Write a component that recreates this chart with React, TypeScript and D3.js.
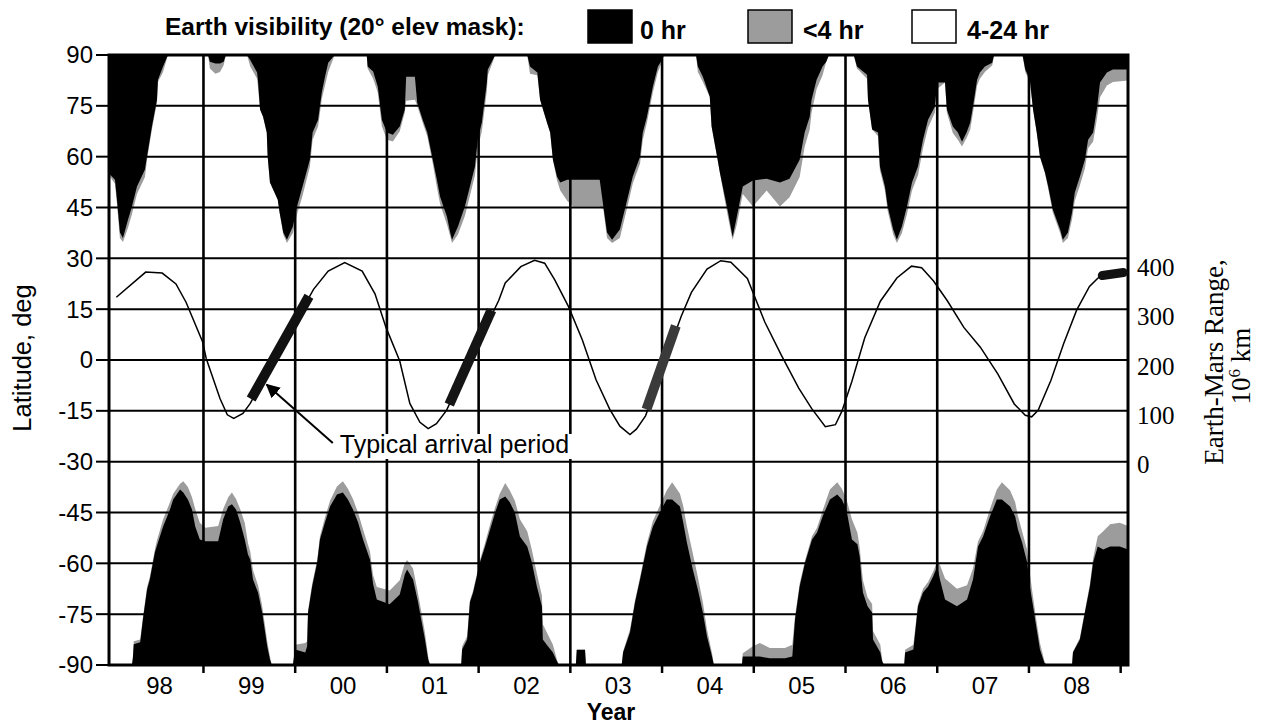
import React from 'react';
import * as d3 from 'd3';

// ---------- data ----------
const yearBounds = [1999, 2000, 2001, 2002, 2003, 2004, 2005, 2006, 2007, 2008, 2009];
const yearLabels = ['98', '99', '00', '01', '02', '03', '04', '05', '06', '07', '08'];
const yearLabelPos = [1998.5, 1999.5, 2000.5, 2001.5, 2002.5, 2003.5, 2004.5, 2005.5, 2006.5, 2007.5, 2008.5];
const latTicks = [90, 75, 60, 45, 30, 15, 0, -15, -30, -45, -60, -75, -90];
const rangeTicks = [0, 100, 200, 300, 400];

// [year, lower edge of 0-hr region, lower edge of <4-hr region] (northern cap, deg)
const northEdge: [number, number, number][] = [
  [1997.97, 55, 54.5], [1998.035, 53.2, 52], [1998.057, 47.3, 46], [1998.089, 37.6, 36], [1998.122, 36, 34.8],
  [1998.177, 41.4, 39], [1998.22, 45.3, 43], [1998.275, 51.2, 49], [1998.362, 56.2, 54], [1998.384, 60, 59],
  [1998.438, 68.9, 68], [1998.493, 76.8, 76], [1998.504, 82.7, 82], [1998.559, 86.6, 85], [1998.613, 90, 90],
  [1999.05, 90, 90], [1999.07, 88, 86], [1999.13, 87.5, 84.5], [1999.18, 87.5, 85], [1999.22, 88, 87], [1999.245, 90, 90],
  [1999.475, 90, 90], [1999.51, 88.5, 86.6], [1999.585, 84.8, 83], [1999.596, 81.9, 80], [1999.617, 73.9, 73.9],
  [1999.65, 71.8, 71.8], [1999.69, 67.1, 67.1], [1999.7, 60, 60], [1999.725, 52.4, 52.4], [1999.81, 47.3, 47.3],
  [1999.83, 43.5, 43.5], [1999.87, 37.6, 37], [1999.91, 35.5, 34.5], [1999.975, 39.4, 37.5], [2000.02, 45.3, 43],
  [2000.08, 51.2, 48.5], [2000.16, 59.1, 57], [2000.19, 67.1, 65], [2000.25, 70.9, 69], [2000.29, 78.9, 77],
  [2000.325, 83.6, 81], [2000.36, 87.7, 85], [2000.43, 90, 90],
  [2000.78, 90, 90], [2000.79, 86.6, 86], [2000.85, 85.1, 83], [2000.9, 80.7, 79], [2000.945, 70.9, 69],
  [2001.0, 67.1, 65], [2001.065, 66.5, 64.5], [2001.14, 68.9, 67.5], [2001.195, 73.9, 73], [2001.21, 83.6, 76.5],
  [2001.305, 83.6, 76.8], [2001.33, 76, 75], [2001.39, 70.9, 70], [2001.44, 67.1, 66], [2001.5, 59.1, 58],
  [2001.545, 53.2, 51], [2001.58, 48.2, 46], [2001.655, 42.3, 40], [2001.69, 37.6, 36.5], [2001.71, 35.5, 34.5],
  [2001.775, 39.4, 37], [2001.85, 45.3, 42.5], [2001.905, 51.2, 48.5], [2001.96, 57.1, 54.5], [2001.99, 65, 62.5],
  [2002.035, 70.1, 67.5], [2002.09, 81.9, 79.5], [2002.1, 85.7, 84], [2002.155, 88.6, 88], [2002.18, 90, 90],
  [2002.53, 90, 90], [2002.56, 86.6, 84.5], [2002.64, 84.8, 84], [2002.67, 76.8, 76.8], [2002.745, 70.1, 70.1],
  [2002.78, 67.1, 67.1], [2002.81, 59.1, 59.1], [2002.855, 54.1, 53], [2002.89, 52.4, 50], [2002.965, 53.2, 47],
  [2003.03, 53.2, 45.3], [2003.32, 53.2, 45.3], [2003.36, 45.3, 44.5], [2003.4, 37.6, 36], [2003.455, 35.5, 34.5],
  [2003.54, 38.5, 36], [2003.62, 47.3, 45], [2003.68, 54.1, 52], [2003.76, 60, 58], [2003.79, 67.1, 65],
  [2003.835, 71.8, 70], [2003.9, 80.7, 79], [2003.955, 86.6, 85], [2004.0, 88.6, 88], [2004.02, 90, 90],
  [2004.37, 90, 90], [2004.39, 86.6, 85], [2004.445, 83.6, 82], [2004.52, 77.7, 77.7], [2004.54, 68.9, 68.9],
  [2004.6, 60, 60], [2004.63, 55.3, 55.3], [2004.685, 48.2, 47], [2004.72, 43.5, 42], [2004.76, 37.6, 36.5],
  [2004.77, 36.4, 35.5], [2004.815, 42.3, 40], [2004.88, 51.2, 49], [2004.99, 53, 45.3], [2005.14, 53.5, 50],
  [2005.285, 52.4, 45.3], [2005.39, 53.5, 48], [2005.5, 59.1, 54], [2005.555, 67.1, 63], [2005.61, 71.8, 68],
  [2005.63, 76.8, 73], [2005.685, 82.7, 80], [2005.75, 86.6, 84], [2005.79, 88, 88], [2005.82, 90, 90],
  [2006.09, 90, 90], [2006.125, 86.6, 86], [2006.235, 84.2, 83], [2006.245, 76.8, 76.8], [2006.29, 68, 68],
  [2006.355, 67.1, 66], [2006.375, 57.1, 56], [2006.43, 51.2, 50], [2006.46, 45.3, 44], [2006.52, 38.5, 37],
  [2006.56, 35.5, 34.5], [2006.615, 39.4, 37.5], [2006.67, 45.3, 43], [2006.725, 52.4, 50], [2006.79, 57.1, 54.5],
  [2006.845, 65, 62.5], [2006.9, 70.9, 68.5], [2006.975, 74.8, 73], [2007.0, 81.9, 80], [2007.085, 81.9, 81.9],
  [2007.105, 73.9, 73], [2007.17, 68.9, 67], [2007.225, 67.1, 65], [2007.27, 64.4, 63], [2007.32, 67.1, 65.5],
  [2007.36, 70.1, 68], [2007.39, 74.8, 73], [2007.435, 82.7, 81], [2007.465, 84.8, 83], [2007.52, 86.6, 85],
  [2007.6, 87.7, 87], [2007.62, 90, 90],
  [2007.93, 90, 90], [2007.96, 85.7, 85], [2008.01, 82.7, 82], [2008.045, 73.9, 73.9], [2008.085, 67.1, 67.1],
  [2008.12, 60, 60], [2008.175, 55.3, 55], [2008.21, 51.2, 50.5], [2008.26, 44.4, 43.5], [2008.34, 38.5, 37.5],
  [2008.37, 35.5, 34.5], [2008.425, 37.6, 36], [2008.47, 43.5, 41.5], [2008.5, 49.4, 47], [2008.555, 54.1, 51.5],
  [2008.61, 59.1, 56.5], [2008.645, 65, 62.5], [2008.7, 67.1, 64.5], [2008.74, 73.9, 71], [2008.775, 81.9, 77.5],
  [2008.85, 84.8, 81], [2008.915, 85.7, 82], [2009.08, 85.7, 82.5],
];

// [year, upper edge of 0-hr region, upper edge of <4-hr region] (southern cap, deg)
const southEdge: [number, number, number][] = [
  [1997.97, -90, -90], [1998.22, -90, -90], [1998.23, -88, -88], [1998.24, -83.9, -83], [1998.31, -83.3, -82.5],
  [1998.34, -76.5, -76], [1998.385, -67.7, -67], [1998.415, -64.8, -64], [1998.47, -56.8, -56], [1998.49, -55, -53.5],
  [1998.56, -49.1, -47], [1998.635, -44.1, -42], [1998.67, -41.2, -39.5], [1998.745, -38.2, -36.5], [1998.78, -39.1, -35.8],
  [1998.83, -41.2, -37.5], [1998.875, -44.1, -40.5], [1998.91, -49.1, -44], [1998.96, -53, -48], [1999.02, -53.5, -49.5],
  [1999.16, -53.5, -49], [1999.215, -47, -44], [1999.27, -43.2, -40.5], [1999.31, -42.6, -39.1], [1999.355, -44.1, -41],
  [1999.4, -47.9, -44], [1999.45, -53, -48], [1999.485, -57.4, -54], [1999.51, -58.9, -56.5], [1999.54, -64.8, -62],
  [1999.595, -68.6, -66.5], [1999.64, -74.5, -72.5], [1999.695, -84.5, -83], [1999.725, -88.4, -87.5], [1999.745, -90, -90],
  [1999.975, -90, -90], [2000.0, -85.4, -84], [2000.11, -86.3, -83.5], [2000.13, -84.5, -83], [2000.14, -74.5, -74],
  [2000.185, -66.8, -66], [2000.24, -59.7, -59], [2000.27, -53, -52], [2000.325, -47.9, -46.5], [2000.38, -43.2, -41.5],
  [2000.455, -39.7, -37.3], [2000.52, -39.1, -35.8], [2000.575, -41.2, -38], [2000.63, -44.1, -41], [2000.685, -47.9, -45],
  [2000.74, -53, -50], [2000.815, -58.9, -56.5], [2000.85, -66.2, -63.5], [2000.89, -70.7, -67], [2001.03, -72.1, -68],
  [2001.14, -69.2, -65], [2001.195, -63.3, -60], [2001.22, -61.8, -59], [2001.285, -64.8, -61.5], [2001.34, -71.5, -69],
  [2001.36, -74.5, -72], [2001.415, -82.5, -80.5], [2001.45, -88.4, -87.5], [2001.47, -90, -90],
  [2001.81, -90, -90], [2001.82, -85.4, -84.5], [2001.875, -82.5, -81.5], [2001.905, -71.5, -71], [2001.94, -68.6, -68],
  [2002.015, -59.7, -59], [2002.07, -55, -54], [2002.125, -50, -48.5], [2002.18, -45, -43.5], [2002.23, -41.2, -39.5],
  [2002.29, -40.3, -36.3], [2002.34, -42, -38.5], [2002.395, -45, -41.5], [2002.45, -52.1, -47], [2002.53, -55, -50.5],
  [2002.58, -59.7, -56], [2002.635, -66.8, -63], [2002.69, -72.7, -69.5], [2002.7, -82.5, -78], [2002.755, -84.5, -81],
  [2002.81, -86.3, -84], [2002.855, -89, -88.5], [2002.875, -90, -90],
  [2003.06, -90, -90], [2003.07, -85.5, -85.5], [2003.16, -85.5, -85.5], [2003.17, -90, -90],
  [2003.56, -90, -90], [2003.575, -86.3, -86], [2003.65, -80.4, -79.5], [2003.705, -71.5, -71], [2003.76, -64.8, -64],
  [2003.835, -55, -54], [2003.9, -49.1, -47.5], [2003.975, -45, -43], [2004.05, -41.2, -38.5], [2004.11, -41.2, -36.1],
  [2004.195, -43.2, -39.5], [2004.23, -47.9, -43], [2004.27, -53.8, -49], [2004.335, -61.8, -57], [2004.39, -67.7, -64],
  [2004.445, -74.5, -71.5], [2004.49, -81.6, -79.5], [2004.545, -87.5, -86.5], [2004.565, -90, -90],
  [2004.87, -90, -90], [2004.88, -87.5, -86.5], [2004.99, -87.5, -84.5], [2005.065, -87.5, -83.5], [2005.175, -88, -85],
  [2005.34, -88, -85], [2005.42, -87.5, -84], [2005.45, -76.5, -75.5], [2005.5, -66.8, -66], [2005.56, -59.7, -59],
  [2005.635, -53, -52], [2005.69, -50.9, -49.5], [2005.75, -46.2, -44.5], [2005.83, -41.2, -38.2], [2005.91, -39.7, -36.1],
  [2005.96, -41.2, -38], [2006.01, -44.1, -41], [2006.07, -53, -47], [2006.13, -54.4, -51], [2006.155, -58, -55.5],
  [2006.175, -64.8, -61], [2006.19, -68.6, -65], [2006.24, -72.7, -70], [2006.29, -74.5, -72], [2006.3, -82.5, -80],
  [2006.38, -86.3, -84], [2006.4, -89, -88.5], [2006.42, -90, -90],
  [2006.64, -90, -90], [2006.65, -86.3, -85.5], [2006.74, -85.4, -84], [2006.79, -72.7, -72], [2006.845, -68.6, -67.5],
  [2006.9, -66.8, -65.5], [2006.955, -63.9, -62.5], [2007.0, -60.9, -59.5], [2007.03, -64.8, -60.5], [2007.085, -70.7, -64.5],
  [2007.215, -72.7, -67.5], [2007.325, -70.7, -66.5], [2007.39, -64.8, -61.5], [2007.445, -55, -53.5], [2007.5, -52.1, -50.5],
  [2007.575, -46.2, -44], [2007.65, -41.2, -38.2], [2007.705, -41.2, -36.1], [2007.795, -43.2, -38.5], [2007.85, -46.2, -42],
  [2007.88, -50, -46], [2007.925, -53.8, -50.5], [2007.98, -59.7, -56], [2008.01, -66.8, -63], [2008.045, -72.7, -70],
  [2008.085, -79.5, -77.5], [2008.12, -85.4, -83.5], [2008.17, -89.5, -89], [2008.195, -90, -90],
  [2008.47, -90, -90], [2008.48, -86.3, -86], [2008.555, -82.5, -82], [2008.61, -74.5, -74], [2008.665, -66.8, -66],
  [2008.7, -59.7, -58.5], [2008.75, -55, -52], [2008.81, -55.9, -50.5], [2008.885, -55, -48.5], [2008.99, -55, -48],
  [2009.08, -55.9, -49],
];

// Earth-Mars range, 10^6 km
const rangeCurve: [number, number][] = [
  [1998.05, 339], [1998.37, 390], [1998.55, 388], [1998.7, 366], [1998.81, 329], [1998.99, 249], [1999.03, 215],
  [1999.18, 134], [1999.26, 101], [1999.33, 94], [1999.43, 104], [1999.51, 124], [1999.85, 239], [2000.2, 355],
  [2000.36, 392], [2000.54, 409], [2000.73, 392], [2000.87, 346], [2000.99, 278], [2001.14, 210], [2001.25, 124],
  [2001.36, 86], [2001.45, 73], [2001.54, 83], [2001.65, 110], [2001.93, 221], [2002.22, 333], [2002.29, 368],
  [2002.46, 401], [2002.61, 414], [2002.72, 408], [2002.83, 374], [2002.98, 320], [2003.13, 253], [2003.28, 172],
  [2003.43, 112], [2003.54, 78], [2003.65, 61], [2003.72, 72], [2003.82, 99], [2004.02, 204], [2004.21, 301],
  [2004.32, 349], [2004.49, 396], [2004.64, 413], [2004.75, 410], [2004.93, 377], [2005.12, 289], [2005.3, 222],
  [2005.49, 155], [2005.63, 114], [2005.78, 77], [2005.89, 81], [2005.96, 108], [2006.07, 169], [2006.21, 257],
  [2006.38, 331], [2006.56, 378], [2006.72, 402], [2006.83, 399], [2006.96, 372], [2007.11, 332], [2007.29, 278],
  [2007.47, 238], [2007.66, 184], [2007.84, 123], [2007.96, 100], [2008.03, 97], [2008.1, 110], [2008.24, 171],
  [2008.38, 246], [2008.52, 313], [2008.66, 361], [2008.77, 381],
];

// typical arrival periods: [startYear, startRange, endYear, endRange, shade]
const arrivalBars: [number, number, number, number, string][] = [
  [1999.52, 133, 2000.15, 341, '#111'],
  [2001.68, 122, 2002.14, 313, '#151515'],
  [2003.83, 112, 2004.15, 281, '#3a3a3a'],
  [2008.8, 383, 2009.03, 389, '#111'],
];

const legendItems = [
  { label: '0 hr', fill: '#000' },
  { label: '<4 hr', fill: '#9c9c9c' },
  { label: '4-24 hr', fill: '#fff' },
];

// ---------- layout ----------
const W = 1264;
const H = 728;
const SANS = '"Liberation Sans", Arial, Helvetica, sans-serif';
const SERIF = '"Liberation Serif", "Times New Roman", serif';
const GRAY = '#9c9c9c';

export default function App() {
  const x = d3.scaleLinear().domain([1997.97, 2009.08]).range([109, 1128]);
  const y = d3.scaleLinear().domain([-90, 90]).range([665, 55]);
  const yR = d3.scaleLinear().domain([0, 400]).range([y(-30.9), y(27.4)]);

  const left = x(1997.97);
  const right = x(2009.08);
  const top = y(90);
  const bottom = y(-90);

  const northGray = d3.area<[number, number, number]>().x(d => x(d[0])).y0(top).y1(d => y(d[2]))(northEdge) || '';
  const northBlack = d3.area<[number, number, number]>().x(d => x(d[0])).y0(top).y1(d => y(d[1]))(northEdge) || '';
  const southGray = d3.area<[number, number, number]>().x(d => x(d[0])).y0(bottom).y1(d => y(d[2]))(southEdge) || '';
  const southBlack = d3.area<[number, number, number]>().x(d => x(d[0])).y0(bottom).y1(d => y(d[1]))(southEdge) || '';
  const curvePath = d3.line<[number, number]>().x(d => x(d[0])).y(d => yR(d[1]))(rangeCurve) || '';

  const tip = [x(1999.69), yR(162)];
  const tail = [x(2000.41), yR(44)];

  const legendX = [588, 748, 912];
  const textX = [640, 803, 967];

  return (
    <svg width={W} height={H} style={{ position: 'absolute', left: 0, top: 0, background: '#fff' }}>
      <defs>
        <clipPath id="plot">
          <rect x={left} y={top} width={right - left} height={bottom - top} />
        </clipPath>
        <marker id="arr" viewBox="0 0 10 10" refX="9" refY="5" markerWidth="7" markerHeight="7" orient="auto">
          <path d="M0,0 L10,5 L0,10 z" fill="#000" />
        </marker>
      </defs>
      <rect x={0} y={0} width={W} height={H} fill="#fff" />

      {/* title + legend */}
      <text x={165} y={35} fontFamily={SANS} fontWeight="bold" fontSize={24.5}>Earth visibility (20° elev mask):</text>
      {legendItems.map((d, i) => (
        <g key={d.label}>
          <rect x={legendX[i]} y={10} width={44} height={33} fill={d.fill} stroke="#000" strokeWidth={1.5} />
          <text x={textX[i]} y={39} fontFamily={SANS} fontWeight="bold" fontSize={25}>{d.label}</text>
        </g>
      ))}

      {/* visibility regions */}
      <g clipPath="url(#plot)">
        <path d={northGray} fill={GRAY} />
        <path d={northBlack} fill="#000" />
        <path d={southGray} fill={GRAY} />
        <path d={southBlack} fill="#000" />
      </g>

      {/* grid */}
      {latTicks.filter(v => Math.abs(v) < 90).map(v => (
        <line key={'h' + v} x1={left} x2={right} y1={y(v)} y2={y(v)} stroke="#000" strokeWidth={2} />
      ))}
      {yearBounds.filter(v => v < 2009).map(v => (
        <line key={'v' + v} x1={x(v)} x2={x(v)} y1={top} y2={bottom} stroke="#000" strokeWidth={2.6} />
      ))}
      <rect x={left} y={top} width={right - left} height={bottom - top} fill="none" stroke="#000" strokeWidth={3} />

      {/* left axis */}
      {latTicks.map(v => (
        <g key={'t' + v}>
          <line x1={left - 13} x2={left} y1={y(v)} y2={y(v)} stroke="#000" strokeWidth={2} />
          <text x={left - 16} y={y(v)} dy="0.35em" textAnchor="end" fontFamily={SANS} fontSize={24}>{String(v)}</text>
        </g>
      ))}
      <text transform={`translate(31,358) rotate(-90)`} textAnchor="middle" fontFamily={SANS} fontSize={25.5}>Latitude, deg</text>

      {/* bottom axis */}
      {yearBounds.map(v => (
        <line key={'b' + v} x1={x(v)} x2={x(v)} y1={bottom} y2={bottom + 8} stroke="#000" strokeWidth={2.5} />
      ))}
      {yearLabels.map((s, i) => (
        <text key={s} x={x(yearLabelPos[i]) + 2} y={694} textAnchor="middle" fontFamily={SANS} fontSize={24}>{s}</text>
      ))}
      <text x={611} y={720} textAnchor="middle" fontFamily={SANS} fontWeight="bold" fontSize={23}>Year</text>

      {/* right axis */}
      {rangeTicks.map(v => (
        <text key={'r' + v} x={right + 9} y={yR(v)} dy="0.35em" fontFamily={SERIF} fontSize={25}>{String(v)}</text>
      ))}
      <text transform={`translate(1223,362) rotate(-90)`} textAnchor="middle" fontFamily={SERIF} fontSize={27}>Earth-Mars Range,</text>
      <text transform={`translate(1250,366) rotate(-90)`} textAnchor="middle" fontFamily={SERIF} fontSize={27}>
        10<tspan fontSize={17} dy={-10}>6</tspan><tspan dy={10}> km</tspan>
      </text>

      {/* range curve + arrival bars */}
      <path d={curvePath} fill="none" stroke="#000" strokeWidth={1.5} />
      {arrivalBars.map((b, i) => (
        <line key={'a' + i} x1={x(b[0])} y1={yR(b[1])} x2={x(b[2])} y2={yR(b[3])} stroke={b[4]} strokeWidth={i === 3 ? 9 : 10} strokeLinecap={i === 3 ? 'round' : 'butt'} />
      ))}

      {/* annotation */}
      <line x1={tail[0]} y1={tail[1]} x2={tip[0]} y2={tip[1]} stroke="#000" strokeWidth={2} markerEnd="url(#arr)" />
      <rect x={tail[0] + 5} y={tail[1] - 9} width={242} height={25} fill="#fff" />
      <text x={tail[0] + 7} y={tail[1] + 10} fontFamily={SANS} fontSize={25}>Typical arrival period</text>
    </svg>
  );
}
